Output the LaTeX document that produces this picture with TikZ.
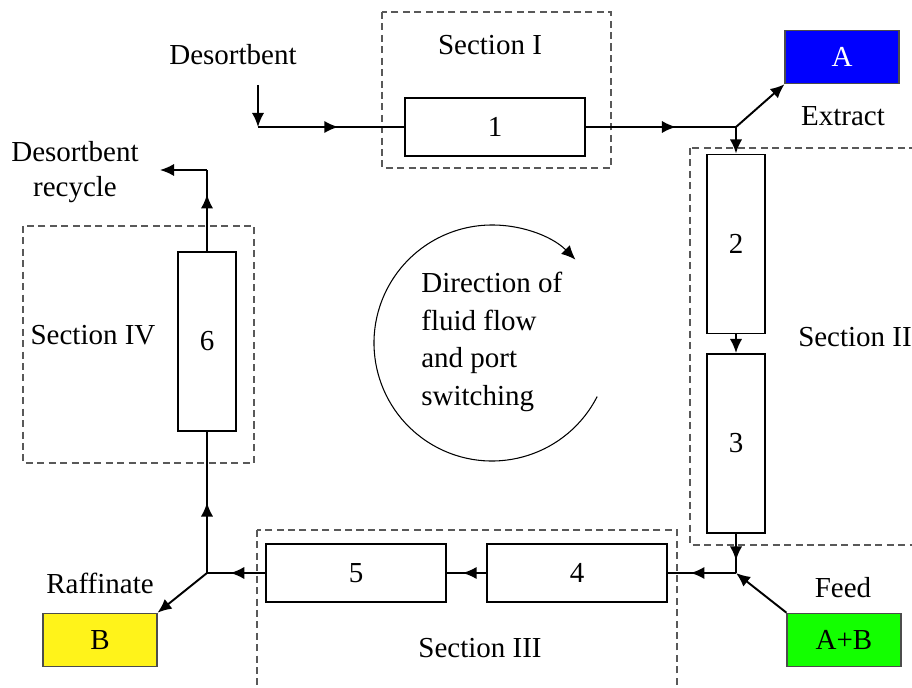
\documentclass[tikz,border=0pt]{standalone}
\usepackage{fontspec}
\setmainfont{Liberation Serif}
\usetikzlibrary{arrows.meta,decorations.markings}

\begin{document}
\begin{tikzpicture}[x=0.02cm, y=-0.02cm, >={Latex[length=8pt,width=7pt]},
  font=\fontsize{16.5}{21.5}\selectfont,
  hcol/.style={draw, line width=1.1pt, minimum width=3.6cm, minimum height=1.16cm, inner sep=0pt},
  vcol/.style={draw, line width=1.1pt, minimum width=1.16cm, minimum height=3.58cm, inner sep=0pt},
  prod/.style={draw=black!70, line width=0.6pt, minimum width=2.28cm, minimum height=1.07cm, inner sep=0pt},
  zone/.style={draw=black!65, line width=0.6pt, dash pattern=on 4pt off 2.5pt},
  pipe/.style={line width=1.1pt},
  arr/.style={pipe, ->},
  midarr/.style={pipe, postaction={decorate},
    decoration={markings, mark=at position #1 with {\arrow{Latex[length=8pt,width=7pt]}}}}]
  \useasboundingbox (0,0) rectangle (912,688);
  \clip (0,0) rectangle (912,688);

  % sections
  \draw[zone] (382,12) rectangle (611,168);
  \draw[zone] (690,148) rectangle (920,545);
  \draw[zone] (257,530) rectangle (677,700);
  \draw[zone] (23,226) rectangle (254,463);
  \node (secI)   at (490,45)  {Section I};
  \node (secII)  at (855,337) {Section II};
  \node (secIII) at (480,648) {Section III};
  \node (secIV)  at (93,335)  {Section IV};

  % columns
  \node[hcol] (c1) at (495,127)   {1};
  \node[vcol] (c2) at (736,244)   {2};
  \node[vcol] (c3) at (736,443.5) {3};
  \node[hcol] (c4) at (577,573)   {4};
  \node[hcol] (c5) at (356,573)   {5};
  \node[vcol] (c6) at (207,341.5) {6};

  % products and feed
  \node[prod, fill=blue, text=white] (pa)  at (842,57)  {A};
  \node[prod, fill=yellow!90!white] (pb)  at (100,640) {B};
  \node[prod, fill=green!90!lime]   (pab) at (844,640) {A+B};
  \node (extract) at (843,116) {Extract};
  \node (feed)    at (843,588) {Feed};
  \node (raff)    at (100,583) {Raffinate};
  \node (desorb)  at (233,55)  {Desortbent};
  \node[align=center, font=\fontsize{16.5}{19.5}\selectfont] (recycle) at (75,172) {Desortbent\\recycle};

  % junctions
  \coordinate (desin)  at (258,85);
  \coordinate (desj)   at (258,127);
  \coordinate (jext)   at (736,127);
  \coordinate (jfeed)  at (736,573);
  \coordinate (jraf)   at (207,573);
  \coordinate (recj)   at (207,170);
  \coordinate (recend) at (160,170);

  % flow
  \draw[arr] (desin) -- (desj);
  \draw[midarr=0.55] (desj) -- (c1.west);
  \draw[midarr=0.6] (c1.east) -- (jext);
  \draw[arr] (jext) -- (pa.south west);
  \draw[arr] (jext) -- (c2.north);
  \draw[arr] (c2.south) -- (c3.north);
  \draw[midarr=0.68] (c3.south) -- (jfeed);
  \draw[arr] (pab.north west) -- (jfeed);
  \draw[midarr=0.67] (jfeed) -- (c4.east);
  \draw[midarr=0.6] (c4.west) -- (c5.east);
  \draw[midarr=0.6] (c5.west) -- (jraf);
  \draw[arr] (jraf) -- (pb.north east);
  \draw[midarr=0.5] (jraf) -- (c6.south);
  \draw[midarr=0.7] (c6.north) -- (recj);
  \draw[arr] (recj) -- (recend);

  % switching direction
  \coordinate (swirl) at (492,343);
  \draw[line width=0.6pt, ->] (swirl) ++(27:118) arc[start angle=27, end angle=315, radius=118];
  \node[anchor=west, align=left, inner sep=0pt] (dirtext) at (421,342)
    {Direction of\\fluid flow\\and port\\switching};
\end{tikzpicture}
\end{document}
